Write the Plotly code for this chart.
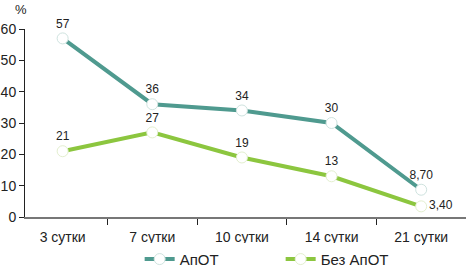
import plotly.graph_objects as go

categories = ["3 сутки", "7 сутки", "10 сутки", "14 сутки", "21 сутки"]
apot = [57, 36, 34, 30, 8.7]
bez_apot = [21, 27, 19, 13, 3.4]
apot_labels = ["57", "36", "34", "30", "8,70"]
bez_labels = ["21", "27", "19", "13", "3,40"]
y_ticks = [0, 10, 20, 30, 40, 50, 60]

FONT = "Liberation Sans, Arial, sans-serif"
TEAL = "#4f9a8f"
GREEN = "#8cc63f"

xs = list(range(len(categories)))

fig = go.Figure()
fig.add_trace(go.Scatter(
    x=xs, y=apot, name="АпОТ", mode="lines+markers+text",
    line=dict(color=TEAL, width=4),
    marker=dict(symbol="circle", size=11, color="white", line=dict(color="#cfe3df", width=1)),
    text=apot_labels, textposition="top center",
    textfont=dict(family=FONT, size=12, color="#222"),
    cliponaxis=False,
))
fig.add_trace(go.Scatter(
    x=xs, y=bez_apot, name="Без АпОТ", mode="lines+markers+text",
    line=dict(color=GREEN, width=4),
    marker=dict(symbol="circle", size=11, color="white", line=dict(color="#e3efcf", width=1)),
    text=bez_labels, textposition=["top center"] * 4 + ["middle right"],
    textfont=dict(family=FONT, size=12, color="#222"),
    cliponaxis=False,
))

fig.add_annotation(text="%", x=-0.01, y=1.0, xref="paper", yref="paper",
                   xanchor="center", yanchor="bottom", showarrow=False, yshift=10,
                   font=dict(family=FONT, size=13, color="#222"))

fig.update_layout(
    width=466, height=274,
    margin=dict(l=25, r=0, t=29, b=57, autoexpand=False),
    paper_bgcolor="white", plot_bgcolor="white",
    font=dict(family=FONT, size=13, color="#222"),
    showlegend=True,
    legend=dict(orientation="h", x=0.26, y=-0.225, xanchor="left", yanchor="middle",
                font=dict(family=FONT, size=15, color="#222"),
                entrywidth=96, itemwidth=30),
)
fig.update_xaxes(
    range=[-0.42, 4.5], automargin=False,
    tickmode="array", tickvals=xs, ticktext=categories, ticks="",
    ticklabelstandoff=6,
    tickfont=dict(family=FONT, size=14, color="#222"),
    showline=True, linecolor="#777", linewidth=2,
    showgrid=False, zeroline=False,
    minor=dict(tickmode="array", tickvals=[i + 0.5 for i in xs], ticks="outside",
               ticklen=6, tickcolor="#222", tickwidth=1),
)
fig.update_yaxes(
    range=[0, 60], tickmode="array", tickvals=y_ticks, automargin=False,
    ticks="outside", ticklen=5, tickcolor="#222",
    tickfont=dict(family=FONT, size=14, color="#222"),
    showline=True, linecolor="#222", linewidth=1,
    showgrid=False, zeroline=False,
)

fig.write_html("out.html", config={"displayModeBar": False},
               post_script="document.body.style.margin='0';document.body.style.overflow='hidden';")
